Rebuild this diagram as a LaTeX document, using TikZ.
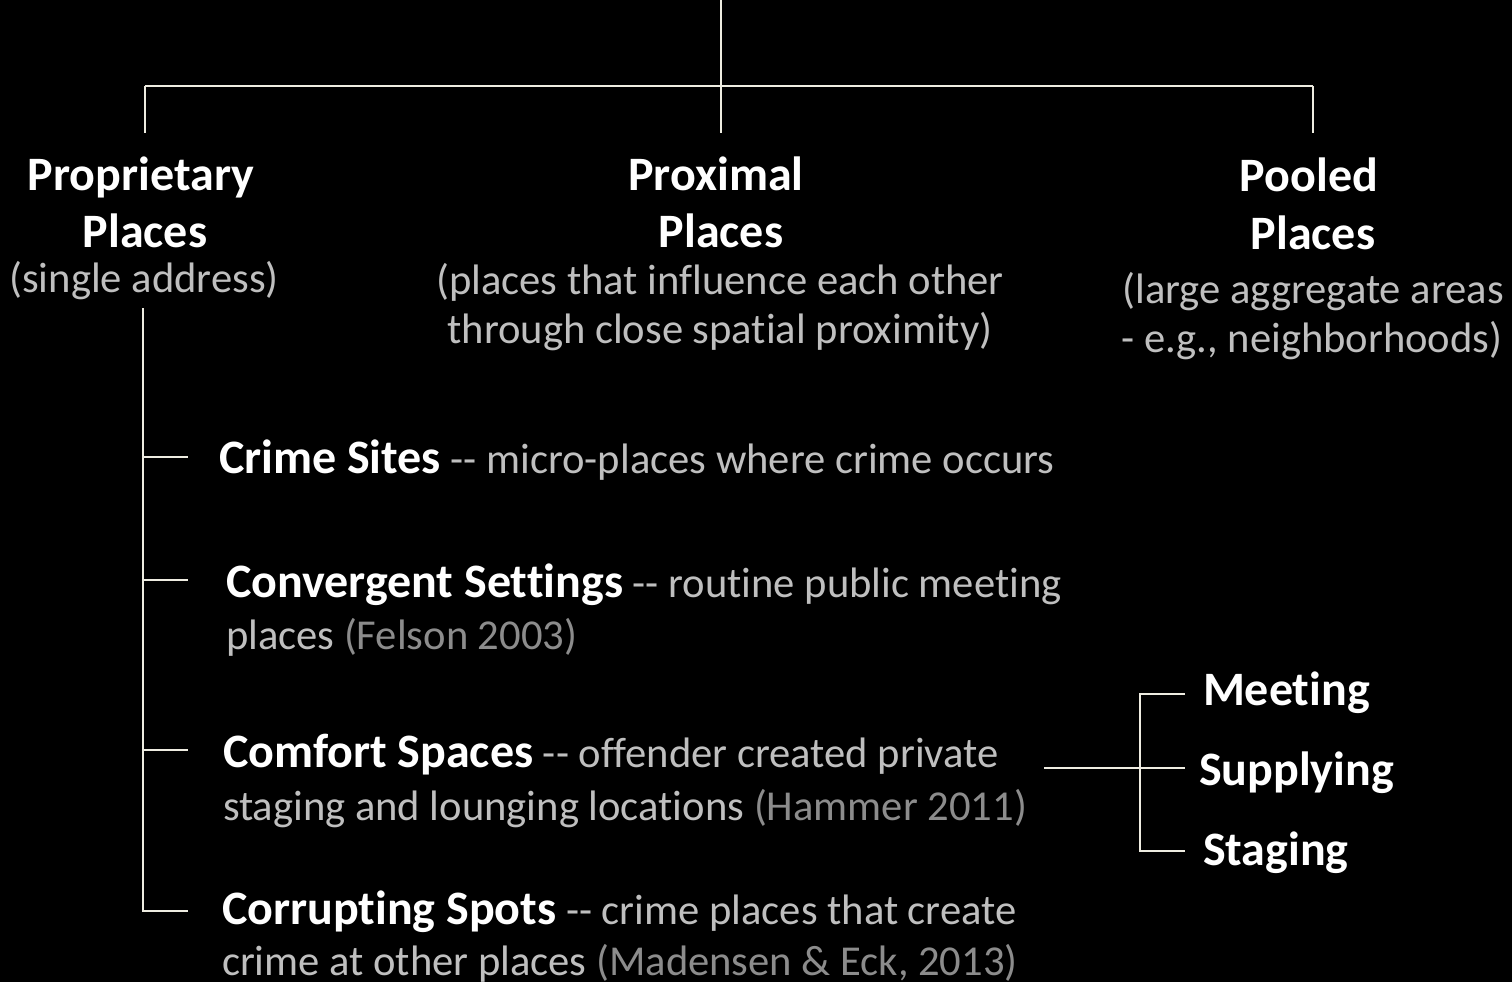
\documentclass[tikz,border=0pt]{standalone}
\usepackage{fontspec}
\setmainfont{Carlito}[Ligatures={TeX,NoCommon}]
\definecolor{linec}{HTML}{EEECE1}
\definecolor{desc}{HTML}{BFBFBF}
\definecolor{cite}{HTML}{8C8C8C}
\newcommand{\bigb}[1]{{\fontsize{48}{57}\selectfont\bfseries\color{white}#1}}
\newcommand{\cit}[1]{{\color{cite}#1}}
\tikzset{
  hd/.style={font=\fontsize{48}{57}\selectfont\bfseries, text=white, inner sep=0pt, outer sep=0pt, anchor=base},
  ds/.style={font=\fontsize{42.6}{50}\selectfont, text=desc, inner sep=0pt, outer sep=0pt, anchor=base},
  item/.style={font=\fontsize{42.6}{50}\selectfont, text=desc, inner sep=0pt, outer sep=0pt, anchor=base west},
  sub/.style={font=\fontsize{48}{57}\selectfont\bfseries, text=white, inner sep=0pt, outer sep=0pt, anchor=base west},
  conn/.style={draw=linec, line width=2pt},
}
\begin{document}
\begin{tikzpicture}[x=1pt, y=-1pt]
\fill[black] (0,0) rectangle (1512,982);
\useasboundingbox (0,0) rectangle (1512,982);

% headings
\node[hd] (pA) at (141,190) {Proprietary};
\node[hd] (pB) at (145,247) {Places};
\node[ds] (pC) at (144,292) {(single address)};

\node[hd] (xA) at (716,190) {Proximal};
\node[hd] (xB) at (721,247) {Places};
\node[ds] (xC) at (720,294) {(places that influence each other};
\node[ds] (xD) at (720,343) {through close spatial proximity)};

\node[hd] (oA) at (1309,191) {Pooled};
\node[hd] (oB) at (1313,249) {Places};
\node[ds] (oC) at (1313,303) {(large aggregate areas};
\node[ds] (oD) at (1312,352) {- e.g., neighborhoods)};

% tree coordinates
\coordinate (root) at (721,0);
\coordinate (hub) at (721,86);
\coordinate (hl) at (145,86);
\coordinate (hr) at (1313,86);
\coordinate (dl) at (145,133);
\coordinate (dm) at (721,133);
\coordinate (dr) at (1313,133);

\draw[conn] (root) -- (dm);
\draw[conn] (hl) -- (hr);
\draw[conn] (hl) -- (dl);
\draw[conn] (hr) -- (dr);

% items
\node[item] (i1) at (219,473) {\bigb{Crime Sites} -{}- micro-places where crime occurs};
\node[item] (i2) at (226,597) {\bigb{Convergent Settings} -{}- routine public meeting};
\node[item] (i2b) at (226,649) {places \cit{(Felson 2003)}};
\node[item] (i3) at (223,767) {\bigb{Comfort Spaces} -{}- offender created private};
\node[item] (i3b) at (223,820) {staging and lounging locations \cit{(Hammer 2011)}};
\node[item] (i4) at (222,924) {\bigb{Corrupting Spots} -{}- crime places that create};
\node[item] (i4b) at (222,975) {crime at other places \cit{(Madensen \& Eck, 2013)}};

\coordinate (vtop) at (143,308);
\coordinate (v1) at (143,457);
\coordinate (v2) at (143,580);
\coordinate (v3) at (143,750);
\coordinate (v4) at (143,911);
\coordinate (s1) at (188,457);
\coordinate (s2) at (188,580);
\coordinate (s3) at (188,750);
\coordinate (s4) at (188,911);
\draw[conn] (vtop) -- (v4) -- (s4);
\draw[conn] (v1) -- (s1);
\draw[conn] (v2) -- (s2);
\draw[conn] (v3) -- (s3);

% sub-branch
\node[sub] (m1) at (1203,705) {Meeting};
\node[sub] (m2) at (1199,785) {Supplying};
\node[sub] (m3) at (1203,865) {Staging};

\coordinate (bstart) at (1044,768);
\coordinate (bmid) at (1140,768);
\coordinate (btop) at (1140,694);
\coordinate (bbot) at (1140,851);
\coordinate (e1) at (1185,694);
\coordinate (e2) at (1185,768);
\coordinate (e3) at (1185,851);
\draw[conn] (bstart) -- (e2);
\draw[conn] (e1) -- (btop) -- (bbot) -- (e3);
\end{tikzpicture}
\end{document}
